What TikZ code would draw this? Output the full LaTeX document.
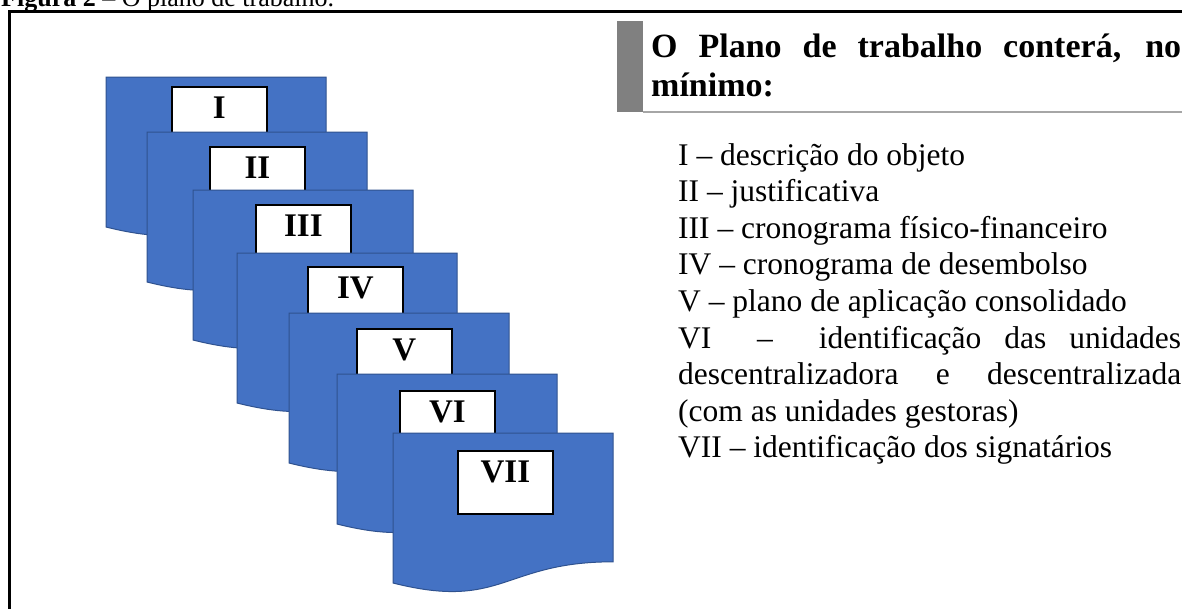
\documentclass[tikz,border=0pt]{standalone}
\usepackage{fontspec}
\setmainfont{Liberation Serif}
\definecolor{docblue}{HTML}{4472C4}
\definecolor{docedge}{HTML}{2F528F}
\definecolor{bargray}{HTML}{808080}
\definecolor{linegray}{HTML}{A6A6A6}
\begin{document}
\begin{tikzpicture}[x=1pt,y=-1pt,
  docshape/.style={fill=docblue,draw=docedge,line width=1pt},
  tag/.style={draw=black,fill=white,line width=1.8pt,minimum width=95pt,
    text height=32pt,text depth=31pt,inner ysep=0pt,inner xsep=0pt,
    anchor=north west,font=\fontsize{33}{33}\selectfont\bfseries},
  item/.style={anchor=base west,inner sep=0pt,font=\fontsize{31.5}{36}\selectfont},
  head/.style={anchor=base west,inner sep=0pt,font=\fontsize{34}{36}\selectfont\bfseries}]
\useasboundingbox (0,0) rectangle (1182,608);
% caption (cut off at top)
\node[anchor=base west,inner sep=0pt,font=\fontsize{26}{26}\selectfont] (cap) at (1,6) {\textbf{Figura 2} – O plano de trabalho.};
% frame
\draw[line width=3pt] (9.5,11.5) rectangle (1250,700);
% documents
\foreach \dx/\dy/\bx/\by/\lab/\nm in {
  106/77/171/86/I/a,
  147/132/209/146/II/b,
  193/190/255/204/III/c,
  237/253/307/266/IV/d,
  289/313/356/328/V/e,
  337/374/399/390/VI/f,
  393/433/457/450/VII/g}{
  \path[docshape,shift={(\dx,\dy)}] (0,0) -- (220,0) -- (220,128.8)
     .. controls (110,128.8) and (110,177.8) .. (0,150) -- cycle;
  \node[tag] (tag\nm) at (\bx,\by) {\lab};
}
% heading
\fill[bargray] (617,21) rectangle (643,112);
\draw[linegray,line width=1.5pt] (643,112) -- (1190,112);
\node[head] (h1) at (651,57) {\makebox[530pt][s]{O Plano de trabalho conterá, no}};
\node[head] (h2) at (651,96) {mínimo:};
% list
\node[item] (l1) at (678,165) {I – descrição do objeto};
\node[item] (l2) at (678,201.6) {II – justificativa};
\node[item] (l3) at (678,238.2) {III – cronograma físico-financeiro};
\node[item] (l4) at (678,274.8) {IV – cronograma de desembolso};
\node[item] (l5) at (678,311.4) {V – plano de aplicação consolidado};
\node[item] (l6) at (678,348) {\makebox[503pt][s]{VI \ – \ identificação das unidades}};
\node[item] (l7) at (678,384.6) {\makebox[503pt][s]{descentralizadora e descentralizada}};
\node[item] (l8) at (678,421.2) {(com as unidades gestoras)};
\node[item] (l9) at (678,457.8) {VII – identificação dos signatários};
\end{tikzpicture}
\end{document}
